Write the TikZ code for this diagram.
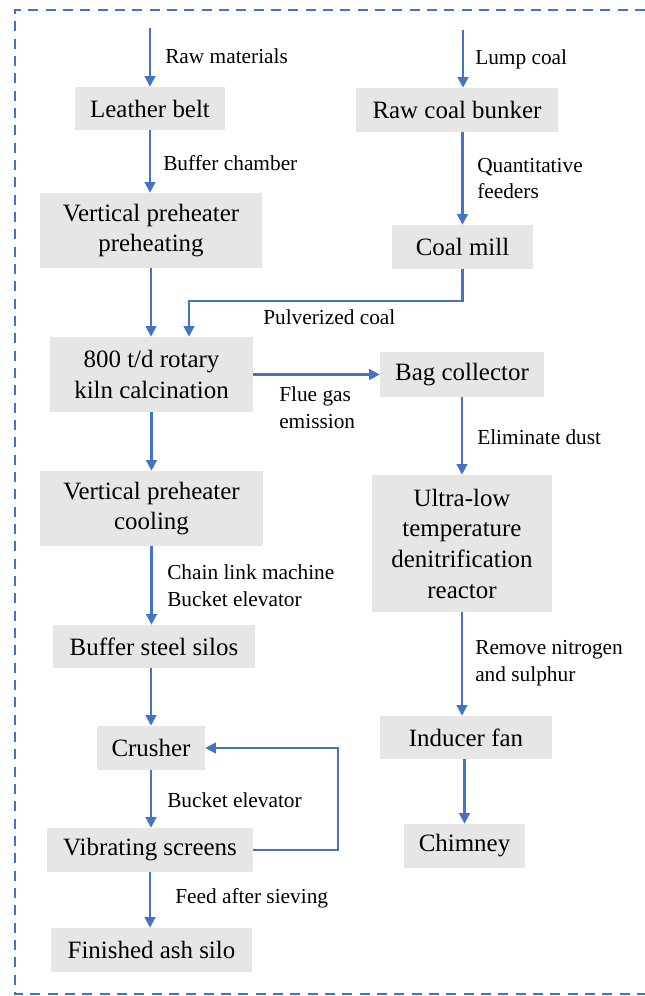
\documentclass[tikz,border=0pt]{standalone}
\usepackage{fontspec}
\setmainfont{Liberation Serif}
\usetikzlibrary{arrows.meta}
\definecolor{flow}{HTML}{4472C4}
\definecolor{boxgray}{HTML}{E7E6E6}
\begin{document}
\begin{tikzpicture}[x=0.75pt,y=-0.75pt,
  box/.style={fill=boxgray, inner sep=0pt, align=center, font=\fontsize{18.7}{23}\selectfont},
  sz/.style 2 args={minimum width=#1*0.75pt, minimum height=#2*0.75pt},
  lbl/.style={anchor=west, inner sep=0pt, align=left, font=\fontsize{16}{20}\selectfont},
  arr/.style={draw=flow, line width=1.7pt, -{Triangle[length=8pt,width=8pt]}},
  frame/.style={draw=flow, line width=1.6pt, dash pattern=on 7.5pt off 5.5pt}]
\useasboundingbox (0,0) rectangle (645,996);
% frame
\draw[frame] (645,10) -- (15,10) -- (15,994) -- (645,994);
% left column boxes
\node[box, sz={150}{43}]  (belt)    at (150,108.5) {Leather belt};
\node[box, sz={222}{75}]  (pre)     at (151,230.5) {Vertical preheater\\preheating};
\node[box, sz={203}{75}]  (kiln)    at (151.5,374.5) {800 t/d rotary\\kiln calcination};
\node[box, sz={223}{75}]  (cool)    at (151.5,508.5) {Vertical preheater\\cooling};
\node[box, sz={202}{43}]  (silos)   at (154,646.5) {Buffer steel silos};
\node[box, sz={108}{44}]  (crusher) at (151,748) {Crusher};
\node[box, sz={206}{44}]  (vib)     at (150,850) {Vibrating screens};
\node[box, sz={201}{44}]  (fin)     at (151.5,950) {Finished ash silo};
% right column boxes
\node[box, sz={202}{44}]  (bunker)  at (457,110) {Raw coal bunker};
\node[box, sz={141}{44}]  (mill)    at (462.5,247) {Coal mill};
\node[box, sz={164}{45}]  (bag)     at (462,374.5) {Bag collector};
\node[box, sz={180}{137}] (ultra)   at (462,543.5) {Ultra-low\\temperature\\denitrification\\reactor};
\node[box, sz={172}{43}]  (fan)     at (466,737.5) {Inducer fan};
\node[box, sz={121}{44}]  (chim)    at (464.5,846) {Chimney};
% free ends
\coordinate (in1) at (150,28);
\coordinate (in2) at (463,30);
\coordinate (pc) at (189,301);
\coordinate (lp) at (338,800);
% left connectors
\draw[arr] (in1) -- (in1 |- belt.north);
\draw[arr] (belt.south) -- (belt.south |- pre.north);
\draw[arr] (pre.south) -- (pre.south |- kiln.north);
\draw[arr] (kiln.south) -- (kiln.south |- cool.north);
\draw[arr] (cool.south) -- (cool.south |- silos.north);
\draw[arr] (crusher.north |- silos.south) -- (crusher.north);
\draw[arr] (crusher.south) -- (crusher.south |- vib.north);
\draw[arr] (vib.south) -- (vib.south |- fin.north);
\draw[arr] (vib.east) -- (vib.east -| lp) -- (lp |- crusher.east) -- (crusher.east);
% right connectors
\draw[arr] (in2) -- (in2 |- bunker.north);
\draw[arr] (mill.north |- bunker.south) -- (mill.north);
\draw[arr] (mill.south) |- (pc) -- (pc |- kiln.north);
\draw[arr] (kiln.east) -- (bag.west);
\draw[arr] (bag.south) -- (bag.south |- ultra.north);
\draw[arr] (ultra.south) -- (ultra.south |- fan.north);
\draw[arr] (chim.north |- fan.south) -- (chim.north);
% labels
\node[lbl] (l1)  at (165,56) {Raw materials};
\node[lbl] (l2)  at (475,59) {Lump coal};
\node[lbl] (l3)  at (163,163) {Buffer chamber};
\node[lbl] (l4)  at (477,178.5) {Quantitative\\feeders};
\node[lbl] (l5)  at (263,317) {Pulverized coal};
\node[lbl] (l6)  at (279,407.5) {Flue gas\\emission};
\node[lbl] (l7)  at (477,437) {Eliminate dust};
\node[lbl] (l8)  at (167,586) {Chain link machine\\Bucket elevator};
\node[lbl] (l9)  at (475,663.5) {Remove nitrogen\\and sulphur};
\node[lbl] (l10) at (167,800) {Bucket elevator};
\node[lbl] (l11) at (175,898) {Feed after sieving};
\end{tikzpicture}
\end{document}
